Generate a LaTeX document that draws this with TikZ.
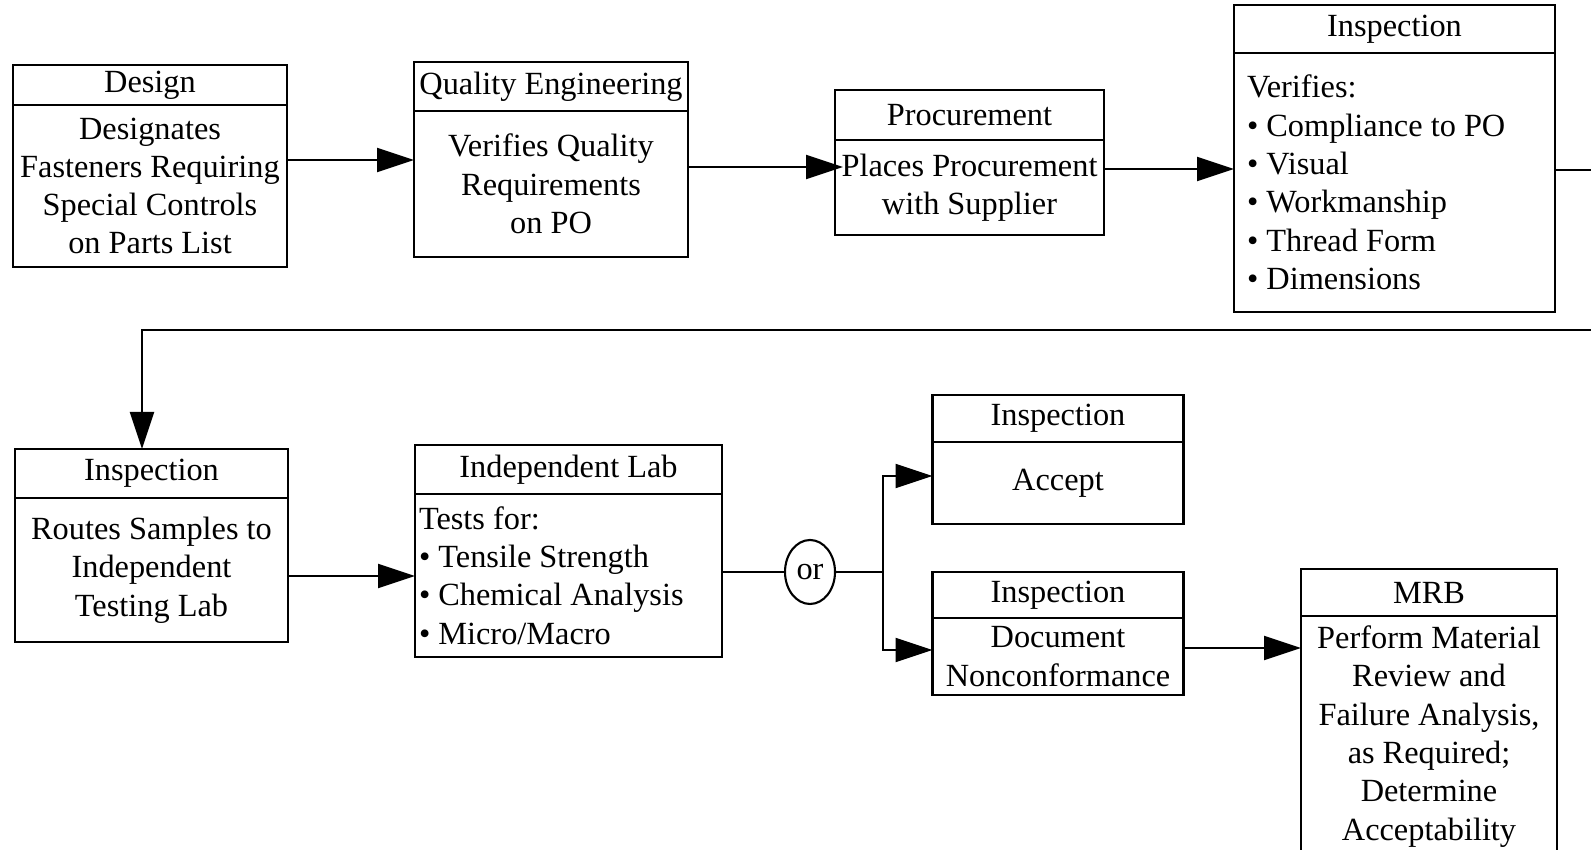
\documentclass[tikz,border=0pt]{standalone}
\usepackage{fontspec}
\setmainfont{Liberation Serif}
\usetikzlibrary{arrows.meta,positioning,shapes.geometric}

\begin{document}
\begin{tikzpicture}[line width=0.6pt,
	head/.style = {rectangle, draw, inner sep=0pt, outer sep=0pt, font=\fontsize{9.2}{10.9}\selectfont},
	body/.style = {rectangle, draw, inner sep=0pt, outer sep=0pt, align=center, font=\fontsize{9.2}{10.9}\selectfont},
	list/.style = {body, align=flush left},
	flow/.style = {-{Triangle[length=3.7mm,width=2.4mm]}}]
	\useasboundingbox (0,0) rectangle (15.91,-8.50);
	\clip (0,0) rectangle (15.91,-8.50);

	% top row
	\node (desH) at ( 1.500, -0.850)	[head, minimum width=2.74cm, minimum height=0.40cm]	{Design};
	\node (desB)	[body, minimum width=2.74cm, minimum height=1.62cm, below=0pt of desH]	{Designates\\Fasteners Requiring\\Special Controls\\on Parts List};
	\node (qeH) at ( 5.510, -0.865)	[head, minimum width=2.74cm, minimum height=0.49cm]	{Quality Engineering};
	\node (qeB)	[body, minimum width=2.74cm, minimum height=1.46cm, below=0pt of qeH]	{Verifies Quality\\Requirements\\on PO};
	\node (prH) at ( 9.695, -1.150)	[head, minimum width=2.69cm, minimum height=0.50cm]	{Procurement};
	\node (prB)	[body, minimum width=2.69cm, minimum height=0.95cm, below=0pt of prH]	{Places Procurement\\with Supplier};
	\node (in1H) at (13.945, -0.290)	[head, minimum width=3.21cm, minimum height=0.48cm]	{Inspection};
	\node (in1B)	[list, text width=2.95cm, inner xsep=0.13cm, minimum height=2.59cm, below=0pt of in1H]
		{Verifies:\\\textbullet\ Compliance to PO\\\textbullet\ Visual\\\textbullet\ Workmanship\\\textbullet\ Thread Form\\\textbullet\ Dimensions};

	% bottom row
	\node (in2H) at ( 1.515, -4.735)	[head, minimum width=2.73cm, minimum height=0.49cm]	{Inspection};
	\node (in2B)	[body, minimum width=2.73cm, minimum height=1.44cm, below=0pt of in2H]	{Routes Samples to\\Independent\\Testing Lab};
	\node (labH) at ( 5.685, -4.695)	[head, minimum width=3.07cm, minimum height=0.49cm]	{Independent Lab};
	\node (labB)	[list, text width=2.99cm, inner xsep=0.04cm, minimum height=1.63cm, below=0pt of labH]
		{Tests for:\\\textbullet\ Tensile Strength\\\textbullet\ Chemical Analysis\\\textbullet\ Micro/Macro};
	\node (orN) at ( 8.100, -5.720)	[ellipse, draw, inner sep=0pt, outer sep=0pt, minimum width=0.50cm, minimum height=0.64cm, font=\fontsize{9.2}{10.9}\selectfont]	{or};
	\node (accH) at (10.580, -4.185)	[head, minimum width=2.51cm, minimum height=0.47cm]	{Inspection};
	\node (accB)	[body, minimum width=2.51cm, minimum height=0.82cm, below=0pt of accH]	{Accept};
	\node (ncH) at (10.580, -5.950)	[head, minimum width=2.51cm, minimum height=0.46cm]	{Inspection};
	\node (ncB)	[body, minimum width=2.51cm, minimum height=0.77cm, below=0pt of ncH]	{Document\\Nonconformance};
	\node (mrbH) at (14.290, -5.925)	[head, minimum width=2.56cm, minimum height=0.47cm]	{MRB};
	\node (mrbB)	[body, minimum width=2.56cm, minimum height=2.41cm, below=0pt of mrbH]
		{Perform Material\\Review and\\Failure Analysis,\\as Required;\\Determine\\Acceptability};

	\coordinate (edgeA) at (15.91, -1.70);
	\coordinate (edgeB) at (15.91, -3.30);
	\coordinate (fork) at (8.83, -5.72);

	% connectors
	\draw[flow] (desB.east |- 0,-1.60) -- (qeB.west |- 0,-1.60);
	\draw[flow, shorten >=-0.8mm] (qeB.east |- 0,-1.67) -- (prB.west |- 0,-1.67);
	\draw[flow] (prB.east |- 0,-1.69) -- (in1B.west |- 0,-1.69);
	\draw (in1B.east |- edgeA) -- (edgeA);
	\draw[flow] (edgeB) -| ([xshift=-0.95mm]in2H.north);
	\draw[flow] (in2B.east |- 0,-5.76) -- (labB.west |- 0,-5.76);
	\draw (labB.east |- orN) -- (orN);
	\draw (orN) -- (fork);
	\draw[flow] (fork) |- (accB.west |- 0,-4.76);
	\draw[flow] (fork) |- (ncB.west |- 0,-6.50);
	\draw[flow] (ncB.east |- 0,-6.48) -- (mrbB.west |- 0,-6.48);
\end{tikzpicture}
\end{document}
